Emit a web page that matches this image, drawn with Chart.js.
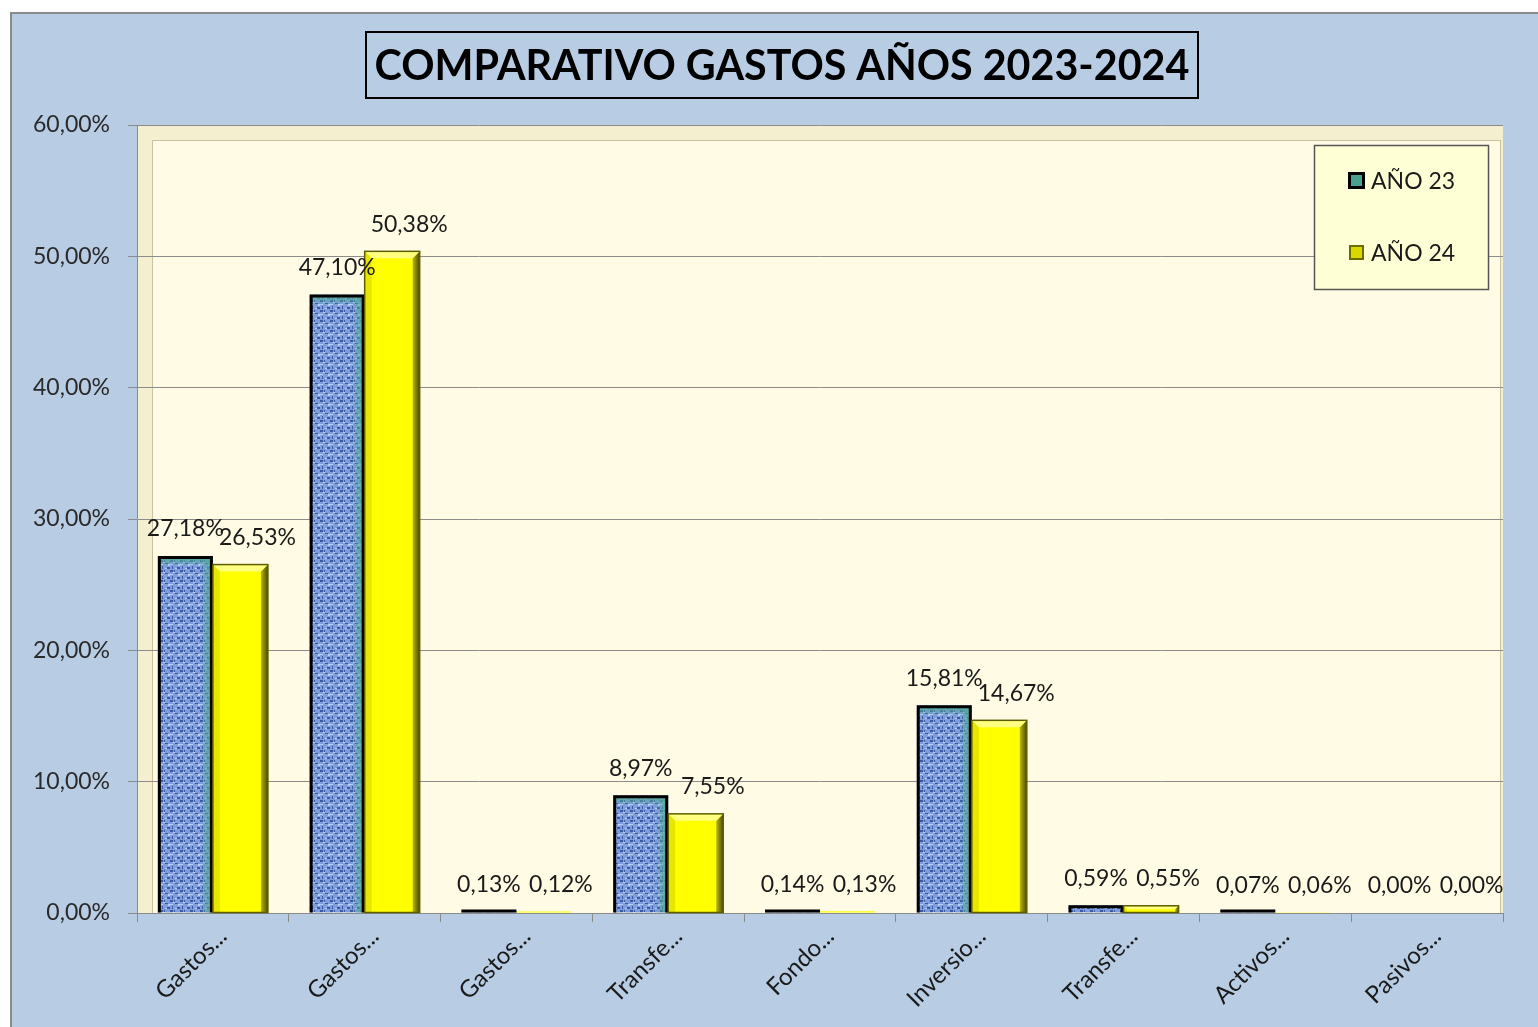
<!DOCTYPE html>
<html>
<head>
<meta charset="utf-8">
<script src="https://cdn.jsdelivr.net/npm/chart.js@4/dist/chart.umd.min.js"></script>
<style>
  html, body { margin: 0; padding: 0; background: #fff; }
  #wrap { position: absolute; left: 0; top: 0; width: 1538px; height: 1027px; }
</style>
</head>
<body>
<div id="wrap"><canvas id="chart"></canvas></div>
<script>
const categories = ["Gastos...", "Gastos...", "Gastos...", "Transfe...", "Fondo...", "Inversio...", "Transfe...", "Activos...", "Pasivos..."];
const seriesNames = ["AÑO 23", "AÑO 24"];
const year23 = [27.18, 47.10, 0.13, 8.97, 0.14, 15.81, 0.59, 0.07, 0.00];
const year24 = [26.53, 50.38, 0.12, 7.55, 0.13, 14.67, 0.55, 0.06, 0.00];
const yTicks = [0, 10, 20, 30, 40, 50, 60];
const title = "COMPARATIVO GASTOS AÑOS 2023-2024";

const FONT = "Lato, 'Liberation Sans', sans-serif";

function pct(v) {
  return v.toFixed(2).replace(".", ",") + "%";
}

// woven blue texture for the 2023 bars
function bluePattern() {
  const c = document.createElement("canvas");
  c.width = 10; c.height = 10;
  const g = c.getContext("2d");
  g.fillStyle = "#7f9edb";
  g.fillRect(0, 0, 10, 10);
  g.fillStyle = "#3a5aa6";
  g.fillRect(0, 0, 3, 2); g.fillRect(5, 3, 3, 1); g.fillRect(2, 6, 1, 3); g.fillRect(7, 7, 3, 2); g.fillRect(4, 0, 1, 2);
  g.fillStyle = "#b9cdf4";
  g.fillRect(3, 2, 2, 1); g.fillRect(8, 4, 2, 2); g.fillRect(0, 4, 3, 1); g.fillRect(5, 8, 2, 1);
  return g.createPattern(c, "repeat");
}

const frame = {
  id: "frame",
  beforeDraw(chart) {
    const ctx = chart.ctx, a = chart.chartArea;
    ctx.save();
    ctx.fillStyle = "#ffffff";
    ctx.fillRect(0, 0, chart.width, chart.height);
    ctx.fillStyle = "#b8cce4";
    ctx.fillRect(11, 13, chart.width, chart.height);
    ctx.strokeStyle = "#8a8a8a";
    ctx.lineWidth = 2;
    ctx.beginPath();
    ctx.moveTo(11, chart.height);
    ctx.lineTo(11, 13);
    ctx.lineTo(chart.width, 13);
    ctx.stroke();
    // plot area with back wall
    ctx.fillStyle = "#f4efcf";
    ctx.fillRect(a.left, a.top, a.right - a.left, a.bottom - a.top);
    ctx.fillStyle = "#fffbe4";
    ctx.fillRect(a.left + 15, a.top + 15, a.right - a.left - 18, a.bottom - a.top - 15);
    ctx.strokeStyle = "#c9c2a0";
    ctx.lineWidth = 1;
    ctx.strokeRect(a.left + 15.5, a.top + 15.5, a.right - a.left - 18, a.bottom - a.top - 15);
    ctx.restore();
  },
  afterDraw(chart) {
    const ctx = chart.ctx;
    ctx.save();
    // title box
    let size = 46;
    ctx.font = "bold " + size + "px " + FONT;
    const w = ctx.measureText(title).width;
    size = size * 815 / w;
    ctx.font = "bold " + size + "px " + FONT;
    ctx.lineWidth = 2;
    ctx.strokeStyle = "#000";
    ctx.strokeRect(366, 32, 832, 66);
    ctx.fillStyle = "#000";
    ctx.textAlign = "center";
    ctx.textBaseline = "middle";
    ctx.fillText(title, 782, 67);

    // legend
    ctx.fillStyle = "#ffffd6";
    ctx.fillRect(1314, 145, 174, 144);
    ctx.strokeStyle = "#555";
    ctx.lineWidth = 1.5;
    ctx.strokeRect(1314.5, 145.5, 174, 144);
    const ys = [181, 253];
    chart.data.datasets.forEach((ds, i) => {
      const y = ys[i];
      if (i === 0) {
        ctx.fillStyle = "#000";
        ctx.fillRect(1348, y - 9, 17, 17);
        ctx.fillStyle = "#4aa090";
        ctx.fillRect(1351, y - 6, 11, 11);
      } else {
        ctx.fillStyle = "#6b6b00";
        ctx.fillRect(1349, y - 8, 15, 15);
        ctx.fillStyle = "#d8d800";
        ctx.fillRect(1351, y - 6, 11, 11);
      }
      ctx.fillStyle = "#1a1a1a";
      ctx.font = "23px " + FONT;
      ctx.textAlign = "left";
      ctx.textBaseline = "middle";
      ctx.fillText(ds.label, 1371, y + 1);
    });
    ctx.restore();
  }
};

// shading on the bars: teal rim on 2023, bevel and shadow on 2024
const shading = {
  id: "shading",
  afterDatasetsDraw(chart) {
    const ctx = chart.ctx;
    ctx.save();
    chart.getDatasetMeta(0).data.forEach(el => {
      const l = el.x - el.width / 2, r = el.x + el.width / 2, t = el.y, b = el.base;
      if (b - t <= 0) return;
      if (b - t > 12) {
        let g = ctx.createLinearGradient(r - 12, 0, r - 2, 0);
        g.addColorStop(0, "rgba(80,170,150,0)");
        g.addColorStop(1, "rgba(80,170,150,0.9)");
        ctx.fillStyle = g;
        ctx.fillRect(r - 12, t + 2, 10, b - t - 2);
        g = ctx.createLinearGradient(0, t + 2, 0, t + 10);
        g.addColorStop(0, "rgba(80,170,150,0.9)");
        g.addColorStop(1, "rgba(80,170,150,0)");
        ctx.fillStyle = g;
        ctx.fillRect(l + 2, t + 2, r - l - 4, 8);
      }
      ctx.strokeStyle = "#000";
      ctx.lineWidth = 3;
      ctx.beginPath();
      const top = Math.min(t, b - 3);
      ctx.moveTo(l + 1.5, b);
      ctx.lineTo(l + 1.5, top + 1.5);
      ctx.lineTo(r - 1.5, top + 1.5);
      ctx.lineTo(r - 1.5, b);
      ctx.stroke();
    });
    chart.getDatasetMeta(1).data.forEach(el => {
      const l = el.x - el.width / 2, r = el.x + el.width / 2, t = el.y, b = el.base;
      if (b - t < 2) return;
      const e = Math.min(7, (b - t) / 2);
      const g = ctx.createLinearGradient(r - e, 0, r, 0);
      g.addColorStop(0, "#b8b800");
      g.addColorStop(1, "#4a4a00");
      ctx.fillStyle = g;
      ctx.beginPath();
      ctx.moveTo(r, t); ctx.lineTo(r, b); ctx.lineTo(r - e, b); ctx.lineTo(r - e, t + e); ctx.closePath();
      ctx.fill();
      ctx.fillStyle = "#ffff80";
      ctx.beginPath();
      ctx.moveTo(l, t); ctx.lineTo(r, t); ctx.lineTo(r - e, t + e); ctx.lineTo(l + e, t + e); ctx.closePath();
      ctx.fill();
      ctx.fillStyle = "#e6e600";
      ctx.beginPath();
      ctx.moveTo(l, t); ctx.lineTo(l + e, t + e); ctx.lineTo(l + e, b); ctx.lineTo(l, b); ctx.closePath();
      ctx.fill();
      ctx.strokeStyle = "#5e5e00";
      ctx.lineWidth = 1.5;
      ctx.strokeRect(l, t, r - l, b - t);
    });
    ctx.restore();
  }
};

const valueLabels = {
  id: "valueLabels",
  afterDatasetsDraw(chart) {
    const ctx = chart.ctx;
    ctx.save();
    ctx.font = "23px " + FONT;
    ctx.fillStyle = "#1a1a1a";
    ctx.textAlign = "center";
    ctx.textBaseline = "middle";
    chart.data.datasets.forEach((ds, i) => {
      const meta = chart.getDatasetMeta(i);
      meta.data.forEach((el, j) => {
        const dx = i === 0 ? 0 : 17;
        ctx.fillText(pct(ds.data[j]), el.x + dx, el.y - 27);
      });
    });
    ctx.restore();
  }
};

const ctx = document.getElementById("chart").getContext("2d");
new Chart(ctx, {
  type: "bar",
  data: {
    labels: categories,
    datasets: [
      { label: seriesNames[0], data: year23, backgroundColor: bluePattern(), borderWidth: 0 },
      { label: seriesNames[1], data: year24, backgroundColor: "#ffff00", borderWidth: 0 }
    ]
  },
  options: {
    responsive: true,
    maintainAspectRatio: false,
    animation: false,
    devicePixelRatio: 1,
    layout: { padding: { top: 125, right: 35, left: 0, bottom: 0 } },
    datasets: { bar: { categoryPercentage: 0.725, barPercentage: 1.0 } },
    plugins: { legend: { display: false }, tooltip: { enabled: false }, title: { display: false } },
    scales: {
      x: {
        afterFit(s) { s.height = 114; },
        grid: { offset: true, drawOnChartArea: false, color: "#8a8a8a", tickLength: 9 },
        border: { color: "#8a8a8a" },
        ticks: { minRotation: 45, maxRotation: 45, autoSkip: false, color: "#1a1a1a", font: { family: FONT, size: 24 }, padding: 0, labelOffset: 10 }
      },
      y: {
        min: 0,
        max: 60,
        afterFit(s) { s.width = 137; },
        afterBuildTicks(s) { s.ticks = yTicks.map(v => ({ value: v })); },
        grid: { color: "#8c8c8c", tickLength: 9 },
        border: { color: "#8a8a8a" },
        ticks: { color: "#2a2a2a", font: { family: FONT, size: 23 }, padding: 18, callback: v => pct(v) }
      }
    }
  },
  plugins: [frame, shading, valueLabels]
});
</script>
</body>
</html>
